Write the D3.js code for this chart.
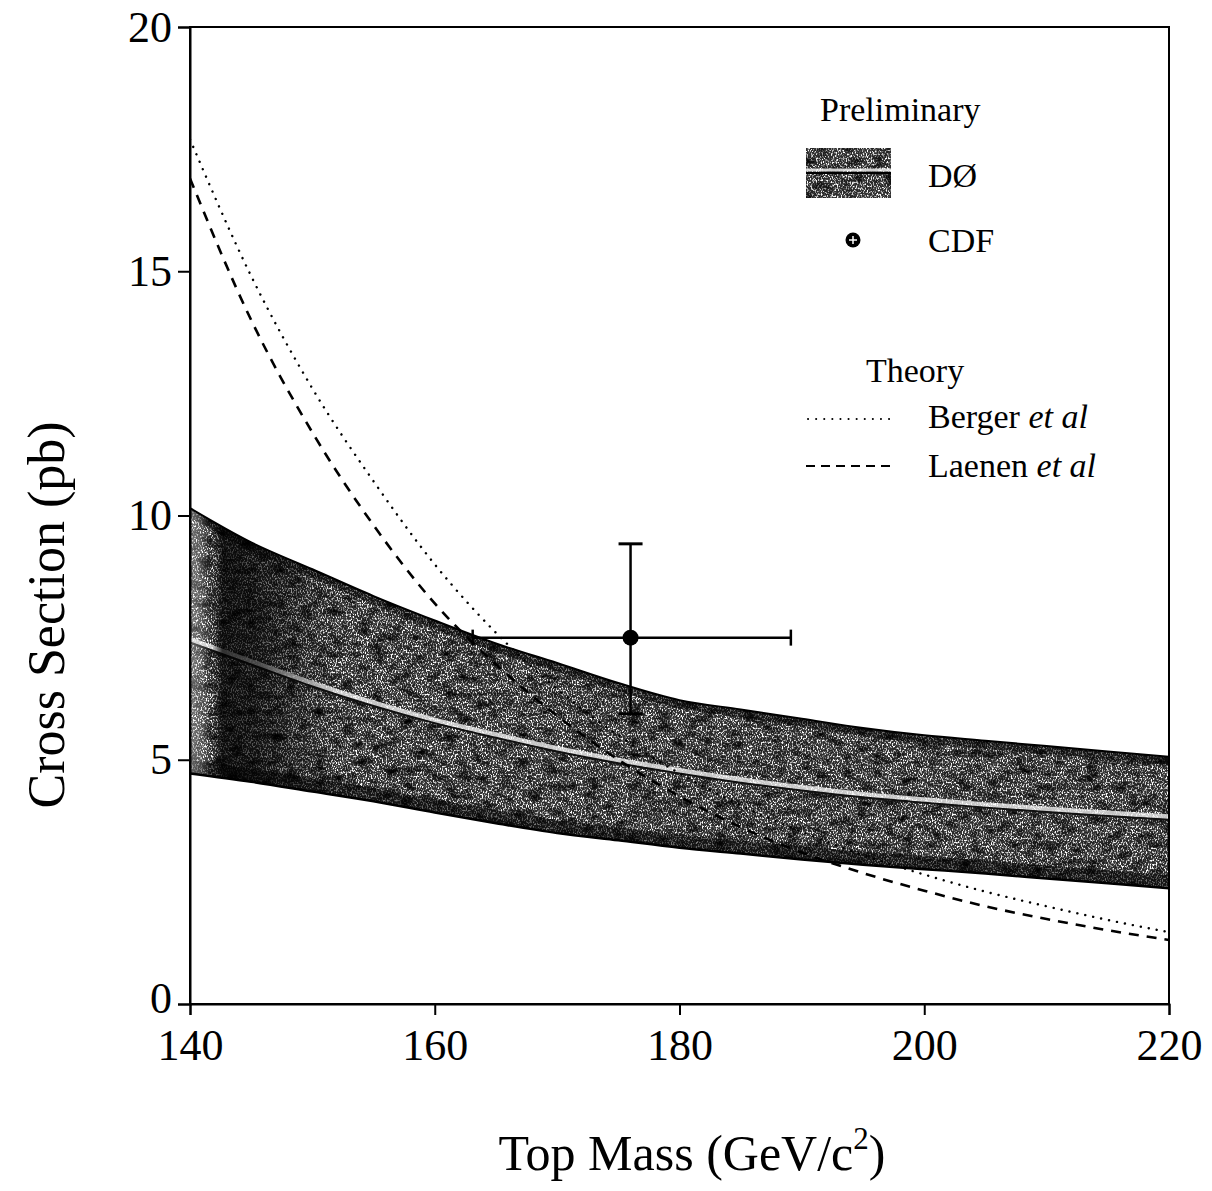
<!DOCTYPE html>
<html>
<head>
<meta charset="utf-8">
<script src="https://cdn.jsdelivr.net/npm/d3@7"></script>
<style>
body { margin: 0; background: #fff; }
text { font-family: "Liberation Serif", "Times New Roman", serif; fill: #000; }
</style>
</head>
<body>
<script>
const w = 1212;
const h = 1191;
const margin = {left: 190, right: 43, top: 27, bottom: 187};

// top mass grid (GeV/c^2)
const mass = [140,145,150,155,160,165,170,175,180,185,190,195,200,205,210,215,220];
// D0 band (pb)
const bandHigh = [10.15,9.45,8.9,8.35,7.85,7.38,6.98,6.57,6.22,6.03,5.84,5.65,5.5,5.39,5.28,5.17,5.06];
const bandLow  = [4.72,4.55,4.35,4.15,3.92,3.7,3.5,3.35,3.2,3.08,2.96,2.85,2.76,2.67,2.57,2.47,2.37];
const bandMid  = [7.4,6.95,6.5,6.1,5.75,5.45,5.17,4.93,4.72,4.53,4.37,4.23,4.12,4.02,3.93,3.85,3.77];
// theory curves (pb)
const berger = [17.7,14.9,12.6,10.7,9.0,7.6,6.45,5.5,4.72,4.07,3.52,3.05,2.65,2.3,2.0,1.72,1.47];
const laenen = [16.9,14.0,11.7,9.8,8.2,6.95,5.9,5.0,4.25,3.62,3.1,2.68,2.32,2.0,1.74,1.51,1.31];
// CDF measurement
const cdf = {m: 176, mLo: 163.1, mHi: 189.1, xs: 7.5, xsLo: 5.94, xsHi: 9.42};

const xTicks = [140,160,180,200,220];
const yTicks = [0,5,10,15,20];

const innerW = w - margin.left - margin.right;
const innerH = h - margin.top - margin.bottom;

const x = d3.scaleLinear().domain([140,220]).range([margin.left, margin.left + innerW]);
const y = d3.scaleLinear().domain([0,20]).range([margin.top + innerH, margin.top]);

const svg = d3.select("body").append("svg")
    .attr("width", w)
    .attr("height", h);

const defs = svg.append("defs");
// speckled print texture for the band
const grain = defs.append("filter").attr("id","grain")
    .attr("x",0).attr("y",0).attr("width","100%").attr("height","100%");
grain.append("feTurbulence")
    .attr("type","fractalNoise").attr("baseFrequency","0.8 0.5")
    .attr("numOctaves",3).attr("seed",7);
grain.append("feColorMatrix").attr("type","matrix")
    .attr("values","0 0 0 0 1  0 0 0 0 1  0 0 0 0 1  5 0 0 0 -2.4");
// softer darker patches on top of the speckles
const blot = defs.append("filter").attr("id","blot")
    .attr("x",0).attr("y",0).attr("width","100%").attr("height","100%");
blot.append("feTurbulence")
    .attr("type","fractalNoise").attr("baseFrequency","0.07 0.12")
    .attr("numOctaves",3).attr("seed",3);
blot.append("feColorMatrix").attr("type","matrix")
    .attr("values","0 0 0 0 0  0 0 0 0 0  0 0 0 0 0  2.2 0 0 0 -0.95");

// left edge shading of the band
const lgrad = defs.append("linearGradient").attr("id","leftshade")
    .attr("gradientUnits","userSpaceOnUse")
    .attr("x1", x(140)).attr("x2", x(152)).attr("y1",0).attr("y2",0);
[[0,"#fff",0.35],[0.08,"#fff",0.2],[0.14,"#fff",0],[0.15,"#000",0],[0.22,"#000",0.75],[0.45,"#000",0.65],[1,"#000",0]].forEach(s =>
    lgrad.append("stop").attr("offset",s[0]).attr("stop-color",s[1]).attr("stop-opacity",s[2]));

defs.append("clipPath").attr("id","plotclip")
    .append("rect")
    .attr("x",margin.left).attr("y",margin.top)
    .attr("width",innerW).attr("height",innerH);

const pts = mass.map((m,i) => ({m: m, hi: bandHigh[i], lo: bandLow[i], mid: bandMid[i],
                                 b: berger[i], l: laenen[i]}));

const area = d3.area().x(d => x(d.m)).y0(d => y(d.lo)).y1(d => y(d.hi)).curve(d3.curveMonotoneX);
const hiLine = d3.line().x(d => x(d.m)).y(d => y(d.hi)).curve(d3.curveMonotoneX);
const loLine = d3.line().x(d => x(d.m)).y(d => y(d.lo)).curve(d3.curveMonotoneX);

defs.append("clipPath").attr("id","bandclip")
    .append("path").datum(pts).attr("d", area);

const plot = svg.append("g").attr("clip-path","url(#plotclip)");

// D0 band
plot.append("path").datum(pts)
    .attr("d", area)
    .attr("fill", "#303030");
const bandG = plot.append("g").attr("clip-path","url(#bandclip)");
const bx = x(140), by = y(11), bw = x(220) - x(140), bh = y(2) - y(11);
bandG.append("rect").attr("x",bx).attr("y",by).attr("width",bw).attr("height",bh)
    .attr("filter","url(#grain)");
bandG.append("rect").attr("x",bx).attr("y",by).attr("width",bw).attr("height",bh)
    .attr("filter","url(#blot)");
// darker rims along both edges
bandG.append("path").datum(pts).attr("d", hiLine)
    .attr("fill","none").attr("stroke","#000").attr("stroke-opacity",0.5).attr("stroke-width",16);
bandG.append("path").datum(pts).attr("d", loLine)
    .attr("fill","none").attr("stroke","#000").attr("stroke-opacity",0.55).attr("stroke-width",26);
// central value
const midLine = d3.line().x(d => x(d.m)).y(d => y(d.mid)).curve(d3.curveMonotoneX);
bandG.append("path").datum(pts)
    .attr("d", midLine)
    .attr("fill","none").attr("stroke","#fff").attr("stroke-opacity",0.75).attr("stroke-width",5)
    .attr("transform","translate(0,-3)");
bandG.append("path").datum(pts)
    .attr("d", midLine)
    .attr("fill","none").attr("stroke","#111").attr("stroke-width",2);
bandG.append("rect").attr("x",bx).attr("y",by).attr("width",x(152)-bx).attr("height",bh)
    .attr("fill","url(#leftshade)");
plot.append("path").datum(pts).attr("d", hiLine)
    .attr("fill","none").attr("stroke","#000").attr("stroke-width",2);
plot.append("path").datum(pts).attr("d", loLine)
    .attr("fill","none").attr("stroke","#000").attr("stroke-width",2.5);

// theory curves
plot.append("path").datum(pts)
    .attr("d", d3.line().x(d => x(d.m)).y(d => y(d.b)).curve(d3.curveMonotoneX))
    .attr("fill","none").attr("stroke","#000").attr("stroke-width",2.4)
    .attr("stroke-dasharray","0.1 8").attr("stroke-linecap","round");
plot.append("path").datum(pts)
    .attr("d", d3.line().x(d => x(d.m)).y(d => y(d.l)).curve(d3.curveMonotoneX))
    .attr("fill","none").attr("stroke","#000").attr("stroke-width",2.6)
    .attr("stroke-dasharray","10 8");

// CDF point with errors
const eb = svg.append("g").attr("stroke","#000").attr("stroke-width",2.5);
eb.append("line").attr("x1",x(cdf.mLo)).attr("x2",x(cdf.mHi)).attr("y1",y(cdf.xs)).attr("y2",y(cdf.xs));
eb.append("line").attr("x1",x(cdf.m)).attr("x2",x(cdf.m)).attr("y1",y(cdf.xsLo)).attr("y2",y(cdf.xsHi));
eb.append("line").attr("x1",x(cdf.m)-12).attr("x2",x(cdf.m)+12).attr("y1",y(cdf.xsHi)).attr("y2",y(cdf.xsHi)).attr("stroke-width",3);
eb.append("line").attr("x1",x(cdf.m)-12).attr("x2",x(cdf.m)+12).attr("y1",y(cdf.xsLo)).attr("y2",y(cdf.xsLo)).attr("stroke-width",3);
eb.append("line").attr("x1",x(cdf.mLo)).attr("x2",x(cdf.mLo)).attr("y1",y(cdf.xs)-8).attr("y2",y(cdf.xs)+8);
eb.append("line").attr("x1",x(cdf.mHi)).attr("x2",x(cdf.mHi)).attr("y1",y(cdf.xs)-8).attr("y2",y(cdf.xs)+8);
svg.append("circle").attr("cx",x(cdf.m)).attr("cy",y(cdf.xs)).attr("r",8).attr("fill","#000");

// frame
svg.append("rect")
    .attr("x",margin.left).attr("y",margin.top)
    .attr("width",innerW).attr("height",innerH)
    .attr("fill","none").attr("stroke","#000").attr("stroke-width",2);

// axes
const xAxis = svg.append("g")
    .attr("transform","translate(0,"+(margin.top+innerH)+")")
    .call(d3.axisBottom(x).tickValues(xTicks).tickSize(11).tickPadding(14).tickFormat(d3.format("d")));
const yAxis = svg.append("g")
    .attr("transform","translate("+margin.left+",0)")
    .call(d3.axisLeft(y).tickValues(yTicks).tickSize(12).tickPadding(6).tickFormat(d3.format("d")));
[xAxis, yAxis].forEach(a => {
    a.select(".domain").attr("stroke-width",2);
    a.selectAll(".tick line").attr("stroke-width",2);
    a.selectAll("text").attr("font-size",44).style("font-family","'Liberation Serif', serif");
});
xAxis.selectAll("text").attr("dy","0.71em");
yAxis.selectAll(".tick text").filter(d => d === 0).attr("dy","0.2em");

// axis titles
const xt = svg.append("text")
    .attr("x", 692).attr("y", 1170)
    .attr("text-anchor","middle").attr("font-size",50);
xt.append("tspan").text("Top Mass (GeV/c");
xt.append("tspan").attr("font-size",31).attr("dy",-21).text("2");
xt.append("tspan").attr("dy",21).text(")");

svg.append("text")
    .attr("transform","translate(64,615) rotate(-90)")
    .attr("text-anchor","middle").attr("font-size",52)
    .text("Cross Section (pb)");

// legend
const lg = svg.append("g");
lg.append("text").attr("x",820).attr("y",121).attr("font-size",34).text("Preliminary");
lg.append("rect").attr("x",806).attr("y",148).attr("width",85).attr("height",50).attr("fill","#303030");
lg.append("rect").attr("x",806).attr("y",148).attr("width",85).attr("height",50).attr("filter","url(#grain)");
lg.append("rect").attr("x",806).attr("y",148).attr("width",85).attr("height",50).attr("filter","url(#blot)");
lg.append("line").attr("x1",806).attr("x2",891).attr("y1",170).attr("y2",170).attr("stroke","#fff").attr("stroke-opacity",0.8).attr("stroke-width",3);
lg.append("line").attr("x1",806).attr("x2",891).attr("y1",173).attr("y2",173).attr("stroke","#000").attr("stroke-width",2);
lg.append("text").attr("x",928).attr("y",187).attr("font-size",34).text("DØ");
lg.append("circle").attr("cx",853).attr("cy",240).attr("r",7.5).attr("fill","#000");
lg.append("path").attr("d","M849,240H857M853,236V244").attr("stroke","#fff").attr("stroke-width",1.5);
lg.append("text").attr("x",928).attr("y",252).attr("font-size",34).text("CDF");
lg.append("text").attr("x",866).attr("y",382).attr("font-size",34).text("Theory");
lg.append("line").attr("x1",808).attr("x2",890).attr("y1",419).attr("y2",419)
    .attr("stroke","#000").attr("stroke-width",2).attr("stroke-dasharray","0.1 8").attr("stroke-linecap","round");
const bt = lg.append("text").attr("x",928).attr("y",428).attr("font-size",34);
bt.append("tspan").text("Berger ");
bt.append("tspan").attr("font-style","italic").text("et al");
lg.append("line").attr("x1",806).attr("x2",890).attr("y1",466).attr("y2",466)
    .attr("stroke","#000").attr("stroke-width",2.2).attr("stroke-dasharray","9 6");
const lt = lg.append("text").attr("x",928).attr("y",477).attr("font-size",34);
lt.append("tspan").text("Laenen ");
lt.append("tspan").attr("font-style","italic").text("et al");
</script>
</body>
</html>
